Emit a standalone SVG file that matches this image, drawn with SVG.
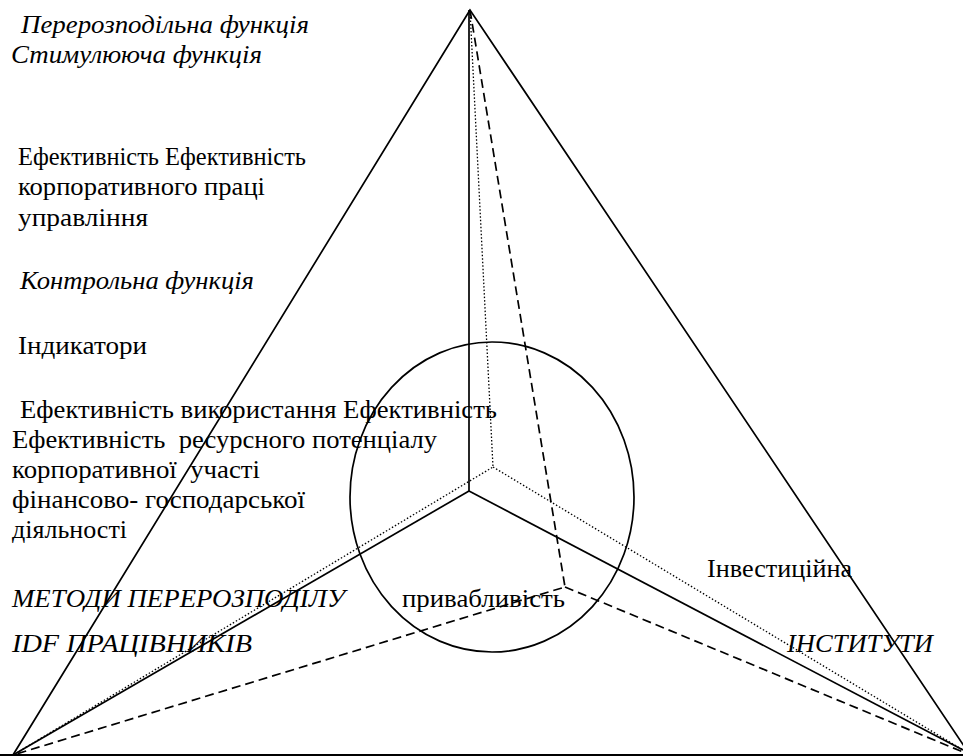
<svg xmlns="http://www.w3.org/2000/svg" width="963" height="756" viewBox="0 0 963 756">
<style>
.t{font-family:'Liberation Serif','Times New Roman','DejaVu Serif',serif;font-size:26px;fill:#000;white-space:pre}
.i{font-style:italic}
.s{stroke:#000;stroke-width:1.7;fill:none}
.d{stroke:#000;stroke-width:1.7;fill:none;stroke-dasharray:9 5}
.o{stroke:#000;stroke-width:1.3;fill:none;stroke-dasharray:1.5 2}
</style>
<rect width="963" height="756" fill="#fff"/>
<g id="connectors">
<polygon class="s" points="470,10 13,755 970,755"/>
<line class="s" x1="969" y1="755" x2="0" y2="755" style="stroke-width:2.2"/>
<polyline class="s" points="469,10 469,491"/>
<line class="s" x1="469" y1="491" x2="13" y2="755"/>
<line class="s" x1="469" y1="491" x2="963" y2="750"/>
<polyline class="o" points="470,10 493,467 13,755"/>
<line class="o" x1="493" y1="467" x2="963" y2="750"/>
<polyline class="d" points="470,10 565,587 13,755"/>
<line class="d" x1="565" y1="587" x2="963" y2="752"/>
</g>
<g id="circle">
<ellipse class="s" cx="492" cy="497" rx="142" ry="155"/>
</g>
<g id="labels">
<text class="t i" x="21" y="33" textLength="288" lengthAdjust="spacingAndGlyphs">Перерозподільна функція</text>
<text class="t i" x="11" y="63" textLength="251" lengthAdjust="spacingAndGlyphs">Стимулююча функція</text>
<text class="t" x="18" y="165" textLength="288" lengthAdjust="spacingAndGlyphs">Ефективність Ефективність</text>
<text class="t" x="18" y="195" textLength="247" lengthAdjust="spacingAndGlyphs">корпоративного праці</text>
<text class="t" x="18" y="226" textLength="130" lengthAdjust="spacingAndGlyphs">управління</text>
<text class="t i" x="20" y="289" textLength="234" lengthAdjust="spacingAndGlyphs">Контрольна функція</text>
<text class="t" x="18" y="354" textLength="129" lengthAdjust="spacingAndGlyphs">Індикатори</text>
<text class="t" x="20" y="418" textLength="477" lengthAdjust="spacingAndGlyphs">Ефективність використання Ефективність</text>
<text class="t" x="12" y="448" textLength="425" lengthAdjust="spacingAndGlyphs">Ефективність  ресурсного потенціалу</text>
<text class="t" x="12" y="478" textLength="248" lengthAdjust="spacingAndGlyphs">корпоративної  участі</text>
<text class="t" x="12" y="508" textLength="293" lengthAdjust="spacingAndGlyphs">фінансово- господарської</text>
<text class="t" x="12" y="538" textLength="115" lengthAdjust="spacingAndGlyphs">діяльності</text>
<text class="t i" x="12" y="607" textLength="333" lengthAdjust="spacingAndGlyphs">МЕТОДИ ПЕРЕРОЗПОДІЛУ</text>
<text class="t i" x="12" y="652" textLength="240" lengthAdjust="spacingAndGlyphs">IDF ПРАЦІВНИКІВ</text>
<text class="t" x="402" y="607" textLength="163" lengthAdjust="spacingAndGlyphs">привабливість</text>
<text class="t" x="707" y="577" textLength="145" lengthAdjust="spacingAndGlyphs">Інвестиційна</text>
<text class="t i" x="787" y="652" textLength="146" lengthAdjust="spacingAndGlyphs">ІНСТИТУТИ</text>
</g>
</svg>
